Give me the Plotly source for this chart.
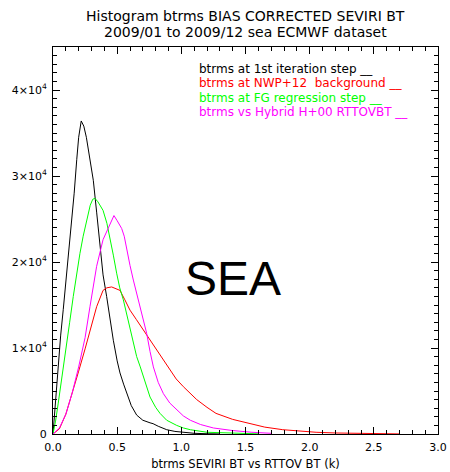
import plotly.graph_objects as go

# btrms histograms (counts per bin) for the four processing stages
x_first = [0, 0.01, 0.02, 0.04, 0.06, 0.08, 0.1, 0.12, 0.146, 0.165, 0.185, 0.2, 0.22, 0.24, 0.26, 0.28,
           0.314, 0.34, 0.366, 0.39, 0.418, 0.44, 0.47, 0.5, 0.522, 0.55, 0.574, 0.61, 0.652, 0.7, 0.756,
           0.78, 0.82, 0.886, 0.95, 1.0, 1.1, 1.2, 1.3]
y_first = [0, 2000, 4500, 8500, 11500, 14500, 17500, 21000, 24500, 28000, 31900, 34500, 36400, 35800,
           34500, 32500, 29500, 25800, 21800, 18500, 16000, 13600, 10900, 8500, 7100, 5800, 4700, 3300,
           2200, 1600, 1300, 1200, 900, 500, 300, 200, 80, 30, 10]

x_nwp = [0, 0.05, 0.1, 0.15, 0.2, 0.25, 0.288, 0.34, 0.39, 0.42, 0.457, 0.49, 0.522, 0.56, 0.6, 0.65,
         0.704, 0.756, 0.808, 0.86, 0.912, 0.96, 1.016, 1.07, 1.12, 1.2, 1.27, 1.4, 1.535, 1.65, 1.79,
         1.9, 2.05, 2.2, 2.4, 2.6, 2.7]
y_nwp = [0, 600, 2300, 4700, 7300, 9900, 12100, 14800, 16700, 17000, 17100, 16900, 16700, 15600, 14400,
         13300, 12100, 11000, 9800, 8600, 7400, 6400, 5500, 4700, 4000, 3100, 2400, 1700, 1200, 800, 500,
         350, 200, 120, 60, 30, 10]

x_fg = [0, 0.02, 0.04, 0.07, 0.107, 0.13, 0.158, 0.185, 0.21, 0.235, 0.26, 0.29, 0.31, 0.327, 0.35, 0.39,
        0.42, 0.444, 0.47, 0.496, 0.52, 0.548, 0.574, 0.6, 0.626, 0.652, 0.68, 0.704, 0.73, 0.756, 0.8,
        0.834, 0.886, 0.964, 1.016, 1.07, 1.2, 1.35, 1.5, 1.6]
y_fg = [0, 1500, 3500, 6500, 10300, 13000, 16000, 18800, 21000, 23000, 24800, 26600, 27300, 27400, 27000,
        26000, 24500, 22900, 20800, 18700, 17000, 15600, 14000, 12500, 10700, 9000, 7800, 6700, 5500, 4300,
        3100, 2400, 1600, 1000, 700, 500, 200, 100, 50, 20]

x_hyb = [0, 0.05, 0.1, 0.15, 0.2, 0.25, 0.288, 0.34, 0.39, 0.444, 0.475, 0.5, 0.535, 0.555, 0.574, 0.6,
         0.626, 0.652, 0.678, 0.704, 0.73, 0.756, 0.782, 0.82, 0.86, 0.91, 0.964, 1.016, 1.07, 1.15, 1.25,
         1.4, 1.55, 1.7]
y_hyb = [0, 700, 2300, 4800, 7800, 11200, 14800, 19500, 22600, 24500, 25400, 24800, 23900, 23000, 21400,
         19600, 17900, 16300, 14800, 13200, 11700, 9600, 7800, 6000, 4700, 3600, 2800, 2100, 1600, 1100,
         700, 400, 200, 80]

series_labels = [
    "btrms at 1st iteration step __",
    "btrms at NWP+12\u00a0\u00a0background __",
    "btrms at FG regression step __",
    "btrms vs Hybrid H+00 RTTOVBT __",
]
series_colors = ["#000000", "#ff0000", "#00ff00", "#ff00ff"]

y_tickvals = [0, 10000, 20000, 30000, 40000]
y_ticktext = ["0", "1×10<sup>4</sup>", "2×10<sup>4</sup>", "3×10<sup>4</sup>", "4×10<sup>4</sup>"]

title_lines = ["Histogram btrms BIAS CORRECTED SEVIRI BT",
               "2009/01 to 2009/12 sea ECMWF dataset"]
x_title = "btrms SEVIRI BT vs RTTOV BT (k)"

fig = go.Figure()
for xs, ys, col in [(x_first, y_first, series_colors[0]),
                    (x_nwp, y_nwp, series_colors[1]),
                    (x_fg, y_fg, series_colors[2]),
                    (x_hyb, y_hyb, series_colors[3])]:
    fig.add_trace(go.Scatter(x=xs, y=ys, mode="lines",
                             line=dict(color=col, width=1), showlegend=False,
                             hoverinfo="skip"))

txt_font = "DejaVu Sans"

# titles
for text, yp in zip(title_lines, [1.080, 1.0385]):
    fig.add_annotation(text=text, xref="paper", yref="paper", x=0.5, y=yp,
                       xanchor="center", yanchor="middle", showarrow=False,
                       font=dict(family=txt_font, size=14, color="black"))

# in-plot legend text
for text, col, yp in zip(series_labels, series_colors, [0.943, 0.907, 0.868, 0.832]):
    fig.add_annotation(text=text, xref="paper", yref="paper", x=0.375, y=yp,
                       xanchor="left", yanchor="middle", showarrow=False,
                       font=dict(family=txt_font, size=12, color=col))

fig.add_annotation(text="SEA", x=1.40, y=18100, xref="x", yref="y",
                   xanchor="center", yanchor="middle", showarrow=False,
                   font=dict(family="Liberation Sans", size=48, color="black"))

axis_common = dict(showline=True, linecolor="black", linewidth=1, mirror="ticks",
                   ticks="inside", tickcolor="black", tickwidth=1, showgrid=False,
                   zeroline=False, automargin=False,
                   tickfont=dict(family=txt_font, size=11, color="black"))

fig.update_xaxes(range=[0, 3], tickvals=[0, 0.5, 1.0, 1.5, 2.0, 2.5, 3.0], tickformat=".1f",
                 ticklen=7, ticklabelstandoff=3,
                 minor=dict(dtick=0.1, ticklen=4, ticks="inside", tickcolor="black", showgrid=False),
                 title=dict(text=x_title, font=dict(family=txt_font, size=11.5, color="black"), standoff=6),
                 **axis_common)
fig.update_yaxes(range=[0, 45000], tickvals=y_tickvals, ticktext=y_ticktext, ticklen=7,
                 ticklabelstandoff=3,
                 minor=dict(dtick=1000, ticklen=4, ticks="inside", tickcolor="black", showgrid=False),
                 **axis_common)

fig.update_layout(width=450, height=472, margin=dict(l=53, r=12, t=47, b=38),
                  plot_bgcolor="white", paper_bgcolor="white")

fig.write_html("out.html")
